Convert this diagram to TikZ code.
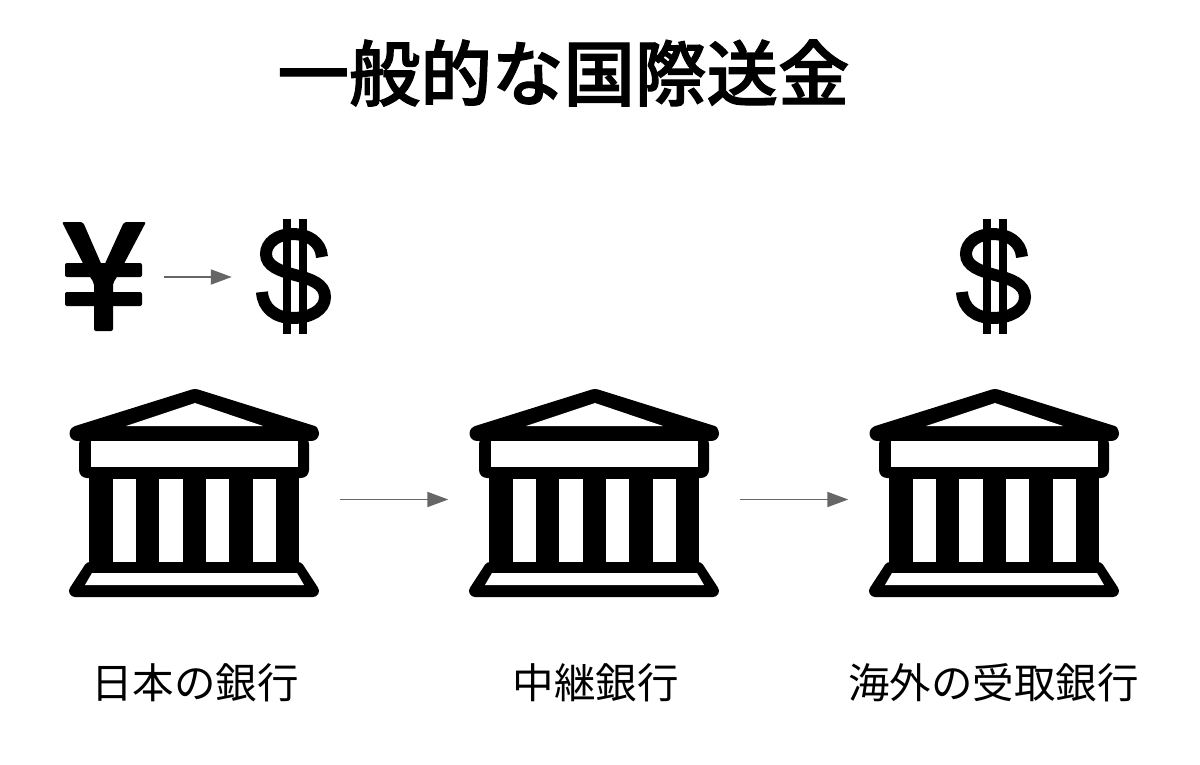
\documentclass[tikz,border=0pt]{standalone}
\usepackage{fontspec}
\newfontfamily\cjk{Noto Sans CJK JP}
\newfontfamily\cjktitle{Noto Sans CJK JP Medium}[FakeBold=1.6]
\usetikzlibrary{arrows.meta}
\definecolor{arrowgray}{HTML}{666666}
\tikzset{
  connector/.style={draw=arrowgray,line width=1.8pt,-{Triangle[length=21pt,width=15pt,fill=arrowgray]}},
  titletext/.style={font=\cjktitle\fontsize{71.5}{80}\selectfont,inner sep=0pt,text=black},
  labeltext/.style={font=\cjk\fontsize{41.5}{48}\selectfont,inner sep=0pt,text=black},
  holder/.style={inner sep=0pt,minimum height=10pt,draw=none},
  bank/.pic={
    % pediment
    \fill[black,rounded corners=3pt] (72,427) -- (195,388.5) -- (318,427) -- (318,436) -- (72,436) -- cycle;
    \draw[black,line width=15pt,line cap=round] (77,433.5) -- (311.5,433.5);
    \fill[white] (195,403) -- (263,426) -- (126,426) -- cycle;
    % entablature
    \fill[black,rounded corners=8pt] (79,436) rectangle (309,478);
    \fill[white] (91,441) rectangle (298,467);
    % columns
    \fill[black] (89,470) rectangle (299,570);
    \fill[white] (113,479) rectangle (136,562);
    \fill[white] (159,479) rectangle (183,562);
    \fill[white] (206,479) rectangle (229,562);
    \fill[white] (253,479) rectangle (276,562);
    % base
    \draw[black,line width=12pt,line join=round] (90,568) -- (298,568) -- (313,591) -- (75,591) -- cycle;
    \fill[white] (92,573) -- (297,573) -- (304,585) -- (85,585) -- cycle;
  },
  dollar/.pic={
    \draw[black,line width=12pt] (322,257) .. controls (321,242) and (308,234) .. (293,234)
      .. controls (277,234) and (266,243) .. (266,254)
      .. controls (266,266) and (280,271) .. (295,275)
      .. controls (311,279) and (325,284) .. (325,297)
      .. controls (325,310) and (310,318) .. (293,318)
      .. controls (275,318) and (263,308) .. (262,292);
    \fill[black] (283,219) rectangle (291,334);
    \fill[black] (299,219) rectangle (307,334);
  },
  yenmark/.pic={
    \fill[black,rounded corners=2pt] (62,222) -- (83,222) -- (103,268) -- (124,222) -- (146,222) -- (117,277) -- (113,283) -- (113,331) -- (94,331) -- (94,283) -- (90,277) -- cycle;
    \fill[black,rounded corners=2pt] (65,263) rectangle (142,277);
    \fill[black,rounded corners=2pt] (65,292) rectangle (142,306);
  }
}
\begin{document}
\begin{tikzpicture}[x=1pt,y=-1pt]
\useasboundingbox (0,0) rectangle (1200,765);
\fill[white] (0,0) rectangle (1200,765);

\node[titletext] (title) at (563.5,73) {一般的な国際送金};

\pic at (0,0) {yenmark};
\pic at (0,0) {dollar};
\pic at (700,0) {dollar};
\pic at (0,0) {bank};
\pic at (400,0) {bank};
\pic at (800,0) {bank};

\node[holder,minimum width=120pt] (yen) at (104,277) {};
\node[holder,minimum width=122pt] (usd) at (293,277) {};
\node[holder,minimum width=291pt] (b1) at (194,499.5) {};
\node[holder,minimum width=291pt] (b2) at (594,499.5) {};
\node[holder,minimum width=291pt] (b3) at (994,499.5) {};

\draw[connector] (yen.east) -- (usd.west);
\draw[connector] (b1.east) -- (b2.west);
\draw[connector] (b2.east) -- (b3.west);

\node[labeltext] (l1) at (195,683) {日本の銀行};
\node[labeltext] (l2) at (595.5,683) {中継銀行};
\node[labeltext] (l3) at (993.5,683) {海外の受取銀行};
\end{tikzpicture}
\end{document}
